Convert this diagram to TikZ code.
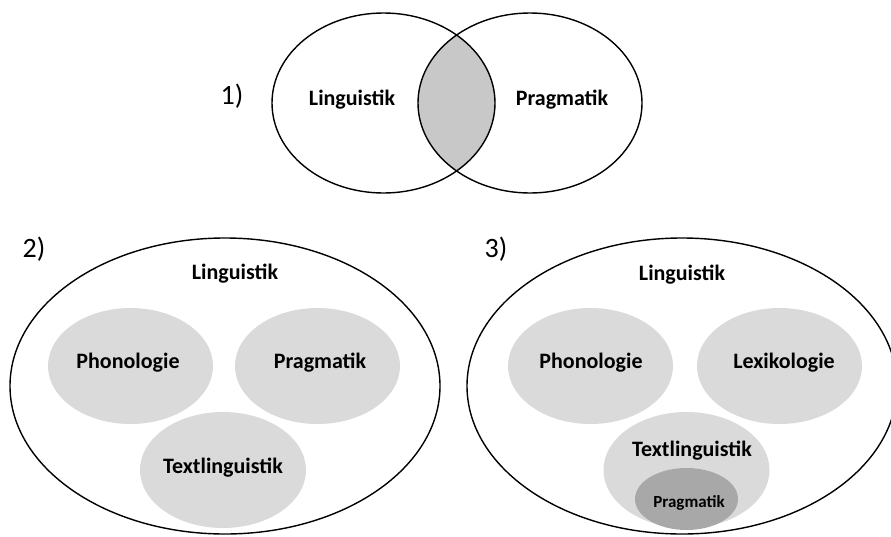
\documentclass[tikz,border=0pt]{standalone}
\usepackage{fontspec}
\setmainfont{Carlito}
\definecolor{fieldgrey}{RGB}{218,218,218}
\definecolor{lensgrey}{RGB}{200,200,200}
\definecolor{coregrey}{RGB}{168,168,168}

\begin{document}
\begin{tikzpicture}[x=1pt, y=-1pt,
    rim/.style={black, line width=1.4pt},
    lbl/.style={font=\fontsize{22}{26}\selectfont\bfseries},
    smalllbl/.style={font=\fontsize{17}{20}\selectfont\bfseries},
    nr/.style={font=\fontsize{28}{33}\selectfont}]
        \useasboundingbox (0,0) rectangle (891,536);
        \clip (0,0) rectangle (891,536);

        % 1) Schnittmenge
        \begin{scope}
            \clip (383.5,103) ellipse (111.5 and 90);
            \fill[lensgrey] (530,103) ellipse (112 and 90);
        \end{scope}
        \draw[rim] (383.5,103) ellipse (111.5 and 90);
        \draw[rim] (530,103) ellipse (112 and 90);
        \node[nr] (n1) at (232,96) {1)};
        \node[lbl] (ling1) at (352,100) {Linguistik};
        \node[lbl] (prag1) at (562,100) {Pragmatik};

        % 2) Teilbereiche
        \draw[rim] (225,386) ellipse (215 and 148);
        \fill[fieldgrey] (130.5,366) ellipse (82.5 and 58);
        \fill[fieldgrey] (317.5,366) ellipse (82.5 and 58);
        \fill[fieldgrey] (223,470) ellipse (83 and 58);
        \node[nr] (n2) at (34,249) {2)};
        \node[lbl] (ling2) at (235,274) {Linguistik};
        \node[lbl] (phon2) at (128,363) {Phonologie};
        \node[lbl] (prag2) at (320,363) {Pragmatik};
        \node[lbl] (text2) at (223,468) {Textlinguistik};

        % 3) Pragmatik in der Textlinguistik
        \draw[rim] (682,386) ellipse (215 and 148);
        \fill[fieldgrey] (590.5,366) ellipse (82.5 and 58);
        \fill[fieldgrey] (779.5,366) ellipse (82.5 and 58);
        \fill[fieldgrey] (686.5,470) ellipse (83 and 58);
        \fill[coregrey] (686.5,499) ellipse (51.5 and 31);
        \node[nr] (n3) at (496,249) {3)};
        \node[lbl] (ling3) at (682,275) {Linguistik};
        \node[lbl] (phon3) at (591,363) {Phonologie};
        \node[lbl] (lex3) at (784,363) {Lexikologie};
        \node[lbl] (text3) at (692,451) {Textlinguistik};
        \node[smalllbl] (prag3) at (689,503) {Pragmatik};
\end{tikzpicture}
\end{document}
